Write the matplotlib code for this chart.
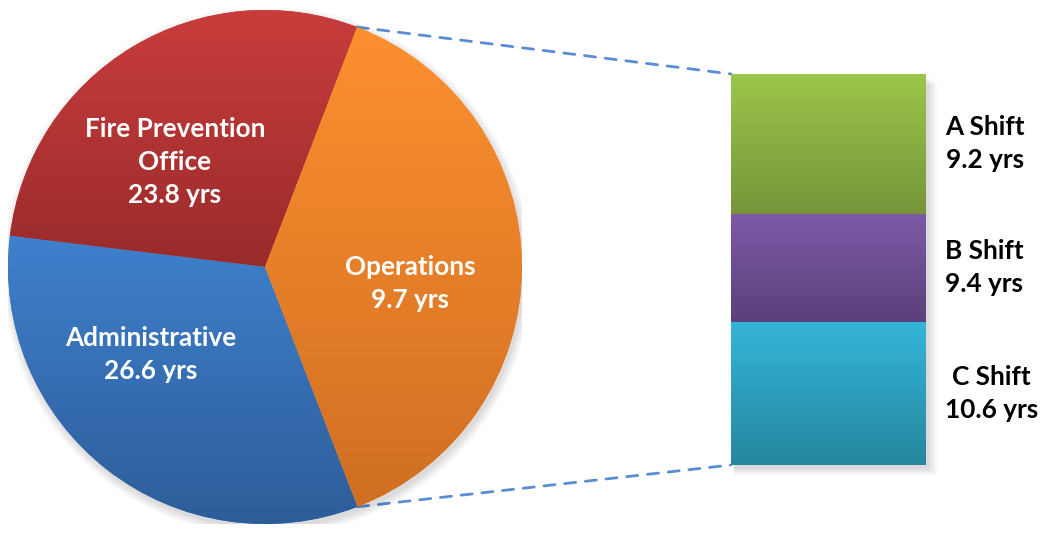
import numpy as np
import matplotlib
matplotlib.use("Agg")
import matplotlib.pyplot as plt
from matplotlib.colors import LinearSegmentedColormap
from matplotlib.patches import Circle, Rectangle, ConnectionPatch

plt.rcParams['font.family'] = ['Lato', 'DejaVu Sans']

# departments: average years of service, slice sizes as drawn in the picture
departments = ["Fire Prevention\nOffice", "Administrative", "Operations"]
dept_years = [23.8, 26.6, 9.7]
dept_share = [28.9, 32.8, 38.3]
dept_top = ["#c93d3c", "#3f80cd", "#fd9030"]
dept_bottom = ["#992b2b", "#2d5d99", "#d06f22"]

# operations broken out by shift (bar on the right)
shifts = ["A Shift", "B Shift", "C Shift"]
shift_years = [9.2, 9.4, 10.6]
shift_share = [35.7, 27.7, 36.6]
shift_top = ["#9cc64b", "#7d5aa8", "#35b5da"]
shift_bottom = ["#76953a", "#5c3f7a", "#25879e"]

# where the labels sit inside the pie (pie radius = 1)
label_pos = [(-0.35, 0.41), (-0.444, -0.342), (0.564, -0.066)]

W, H = 1044, 533
fig = plt.figure(figsize=(W / 100, H / 100), dpi=100)
ax_pie = fig.add_axes([8 / W, (H - 524) / H, 514 / W, 514 / H])
ax_bar = fig.add_axes([731 / W, (H - 465) / H, 195 / W, 391 / H])


def fill_gradient(ax, patch, top, bottom):
    bb = patch.get_path().get_extents(patch.get_patch_transform())
    cmap = LinearSegmentedColormap.from_list("g", [bottom, top])
    grad = np.linspace(0, 1, 256).reshape(-1, 1)
    im = ax.imshow(grad, extent=[bb.x0, bb.x1, bb.y0, bb.y1], origin="lower",
                   cmap=cmap, aspect="auto", interpolation="bicubic",
                   zorder=patch.get_zorder() + 0.1)
    im.set_clip_path(patch)


# soft shadow under the pie
for k in range(6):
    ax_pie.add_patch(Circle((0.008, -0.016), 1.0 + 0.006 * k, color="black",
                            alpha=0.022, lw=0, zorder=0))

wedges, _ = ax_pie.pie(dept_share, startangle=69, counterclock=True,
                       colors=dept_top, radius=1,
                       wedgeprops=dict(linewidth=0))
for w, t, b in zip(wedges, dept_top, dept_bottom):
    w.set_zorder(1)
    fill_gradient(ax_pie, w, t, b)

for name, yrs, (x, y) in zip(departments, dept_years, label_pos):
    ax_pie.text(x, y, f"{name}\n{yrs} yrs", color="white", fontsize=18.8,
                fontweight="bold", ha="center", va="center",
                linespacing=1.45, zorder=5)

ax_pie.set_xlim(-1, 1)
ax_pie.set_ylim(-1, 1)
ax_pie.set_aspect("equal")
ax_pie.axis("off")

# stacked bar, A on top
total = sum(shift_share)
bottoms = total - np.cumsum(shift_share)
for k in range(6):
    ax_bar.add_patch(Rectangle((0.015, -1.0 - 0.3 * k), 1.0 + 0.008 * k, total,
                               color="black", alpha=0.022, lw=0, zorder=0,
                               clip_on=False))
bars = ax_bar.bar(0.5, shift_share, width=1.0, bottom=bottoms,
                  color=shift_top, linewidth=0, zorder=1)
for r, t, b in zip(bars, shift_top, shift_bottom):
    fill_gradient(ax_bar, r, t, b)

for name, yrs, b, h in zip(shifts, shift_years, bottoms, shift_share):
    ax_bar.text(1.097, b + h / 2, f"{name}\n{yrs} yrs", color="black",
                fontsize=18.8, fontweight="bold", ha="left", va="center",
                multialignment="center", linespacing=1.45, clip_on=False)

ax_bar.set_xlim(0, 1)
ax_bar.set_ylim(0, total)
ax_bar.axis("off")

# dashed connectors from the operations slice to the bar
ops = wedges[2]
for ang, yb in [(ops.theta2, total), (ops.theta1, 0)]:
    a = np.deg2rad(ang)
    con = ConnectionPatch(xyA=(np.cos(a), np.sin(a)), coordsA=ax_pie.transData,
                          xyB=(0, yb), coordsB=ax_bar.transData,
                          color="#5b8dd6", lw=2, linestyle=(0, (4, 3.5)),
                          zorder=0)
    fig.add_artist(con)

fig.savefig("out.png", dpi=100, facecolor="white")
